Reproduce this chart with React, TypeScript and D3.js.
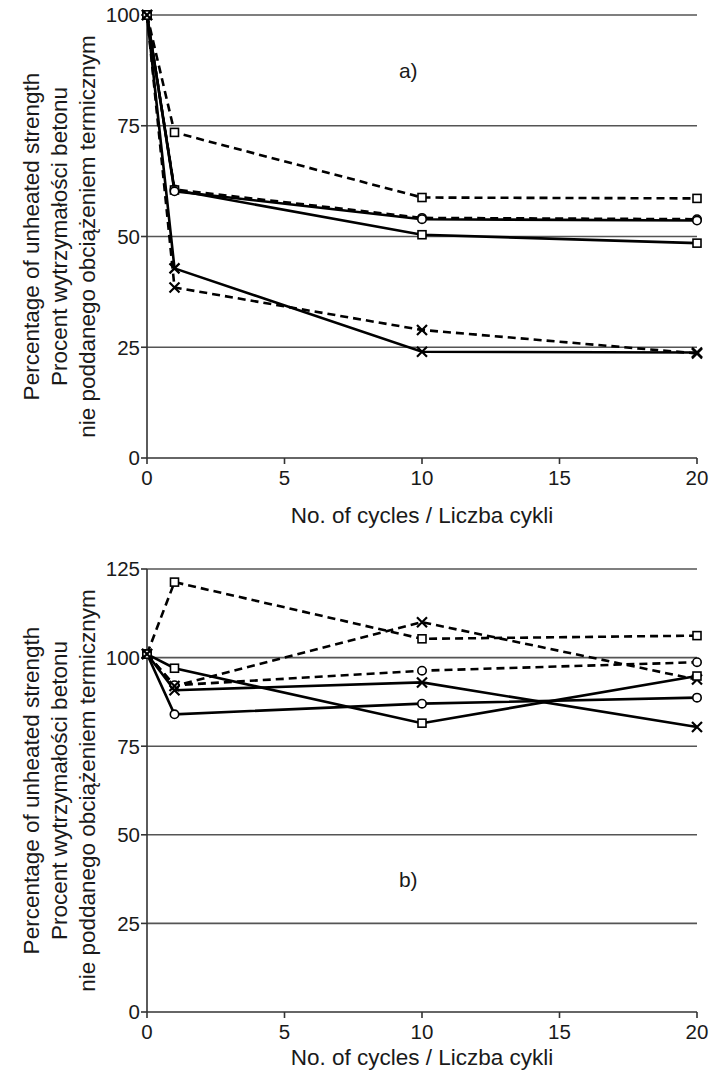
import * as React from 'react';
import * as d3 from 'd3';

// cycles at which the specimens were tested
const cycles = [0, 1, 10, 20];

// panel a) percentage of unheated strength
const aSolidSquare = [100, 60.5, 50.4, 48.5];
const aDashedSquare = [100, 73.5, 58.8, 58.6];
const aSolidCircle = [100, 60.2, 53.9, 53.6];
const aDashedCircle = [100, 60.6, 54.2, 53.9];
const aSolidCross = [100, 42.8, 24.0, 23.8];
const aDashedCross = [100, 38.5, 28.9, 23.6];

// panel b)
const bSolidSquare = [101, 97.0, 81.5, 94.8];
const bDashedSquare = [101, 121.3, 105.3, 106.2];
const bSolidCircle = [101, 84.0, 87.0, 88.7];
const bDashedCircle = [101, 92.2, 96.3, 98.7];
const bSolidCross = [101, 90.8, 93.0, 80.4];
const bDashedCross = [101, 92.0, 110.0, 93.8];

const xTicks = [0, 5, 10, 15, 20];
const aYTicks = [0, 25, 50, 75, 100];
const bYTicks = [0, 25, 50, 75, 100, 125];

const yTitle = [
  'Percentage of unheated strength',
  'Procent wytrzymałości betonu',
  'nie poddanego obciążeniem termicznym',
];
const xTitle = 'No. of cycles / Liczba cykli';

type Marker = 'square' | 'circle' | 'cross';

interface Series {
  values: number[];
  marker: Marker;
  dashed: boolean;
}

interface PanelProps {
  top: number;
  yMax: number;
  yTicks: number[];
  series: Series[];
  label: string;
  labelAt: [number, number];
  titleOffset: number;
}

const FONT = 'Liberation Sans, Arial, sans-serif';
const left = 147;
const right = 697;
const plotH = 443;

const MarkerShape = ({ kind, cx, cy }: { kind: Marker; cx: number; cy: number }) => {
  if (kind === 'square') {
    return <rect x={cx - 4} y={cy - 4} width={8} height={8} fill="white" stroke="#000" strokeWidth={1.6} />;
  }
  if (kind === 'circle') {
    return <circle cx={cx} cy={cy} r={4.2} fill="white" stroke="#000" strokeWidth={1.6} />;
  }
  return (
    <path
      d={`M${cx - 5},${cy - 5}L${cx + 5},${cy + 5}M${cx - 5},${cy + 5}L${cx + 5},${cy - 5}`}
      stroke="#000"
      strokeWidth={2.2}
    />
  );
};

const Panel = (props: PanelProps) => {
  const { top, yMax, yTicks, series, label, labelAt, titleOffset } = props;
  const x = d3.scaleLinear().domain([0, 20]).range([left, right]);
  const y = d3.scaleLinear().domain([0, yMax]).range([top + plotH, top]);
  const line = d3
    .line<number>()
    .x((_, i) => x(cycles[i]))
    .y((d) => y(d));
  const midY = top + plotH / 2;

  return (
    <g>
      {/* grid */}
      {yTicks
        .filter((t) => t > 0)
        .map((t) => (
          <line key={'g' + t} x1={left} x2={right} y1={y(t)} y2={y(t)} stroke="#555" strokeWidth={1.6} />
        ))}
      {/* y axis */}
      <line x1={left} x2={left} y1={y(yMax)} y2={y(0)} stroke="#333" strokeWidth={1.6} />
      {yTicks.map((t) => (
        <g key={'y' + t}>
          <line x1={left - 6} x2={left} y1={y(t)} y2={y(t)} stroke="#333" strokeWidth={1.6} />
          <text x={left - 7} y={y(t)} dy="0.36em" textAnchor="end" fontSize={20.5} fill="#1a1a1a">
            {t}
          </text>
        </g>
      ))}
      {/* x axis */}
      <line x1={left} x2={right} y1={y(0)} y2={y(0)} stroke="#333" strokeWidth={1.6} />
      {xTicks.map((t) => (
        <g key={'x' + t}>
          <line x1={x(t)} x2={x(t)} y1={y(0)} y2={y(0) + 6} stroke="#333" strokeWidth={1.6} />
          <text x={x(t)} y={y(0) + 20} dy="0.36em" textAnchor="middle" fontSize={20.5} fill="#1a1a1a">
            {t}
          </text>
        </g>
      ))}
      <text x={(left + right) / 2} y={y(0) + titleOffset} dy="0.36em" textAnchor="middle" fontSize={22.5} fill="#1a1a1a">
        {xTitle}
      </text>
      {yTitle.map((s, i) => (
        <text
          key={s}
          transform={`translate(${31 + i * 28},${midY}) rotate(-90)`}
          textAnchor="middle"
          dy="0.36em"
          fontSize={22.5}
          fill="#1a1a1a"
        >
          {s}
        </text>
      ))}
      <text x={x(labelAt[0])} y={y(labelAt[1])} dy="0.36em" textAnchor="middle" fontSize={21} fill="#1a1a1a">
        {label}
      </text>
      {/* series */}
      {series.map((s, k) => (
        <path
          key={'l' + k}
          d={line(s.values) || ''}
          fill="none"
          stroke="#000"
          strokeWidth={2.6}
          strokeDasharray={s.dashed ? '8,5' : undefined}
        />
      ))}
      {series.map((s, k) =>
        s.values.map((v, i) => (
          <MarkerShape key={'m' + k + '-' + i} kind={s.marker} cx={x(cycles[i])} cy={y(v)} />
        ))
      )}
    </g>
  );
};

const aSeries: Series[] = [
  { values: aDashedSquare, marker: 'square', dashed: true },
  { values: aDashedCircle, marker: 'circle', dashed: true },
  { values: aDashedCross, marker: 'cross', dashed: true },
  { values: aSolidSquare, marker: 'square', dashed: false },
  { values: aSolidCircle, marker: 'circle', dashed: false },
  { values: aSolidCross, marker: 'cross', dashed: false },
];

const bSeries: Series[] = [
  { values: bDashedSquare, marker: 'square', dashed: true },
  { values: bDashedCircle, marker: 'circle', dashed: true },
  { values: bDashedCross, marker: 'cross', dashed: true },
  { values: bSolidSquare, marker: 'square', dashed: false },
  { values: bSolidCircle, marker: 'circle', dashed: false },
  { values: bSolidCross, marker: 'cross', dashed: false },
];

export default function App() {
  return (
    <div style={{ position: 'absolute', left: 0, top: 0 }}>
      <svg width={712} height={1073} style={{ display: 'block', background: 'white', fontFamily: FONT }}>
        <Panel top={15} yMax={100} yTicks={aYTicks} series={aSeries} label="a)" labelAt={[9.5, 87.5]} titleOffset={57} />
        <Panel top={569} yMax={125} yTicks={bYTicks} series={bSeries} label="b)" labelAt={[9.5, 37.5]} titleOffset={45} />
      </svg>
    </div>
  );
}
